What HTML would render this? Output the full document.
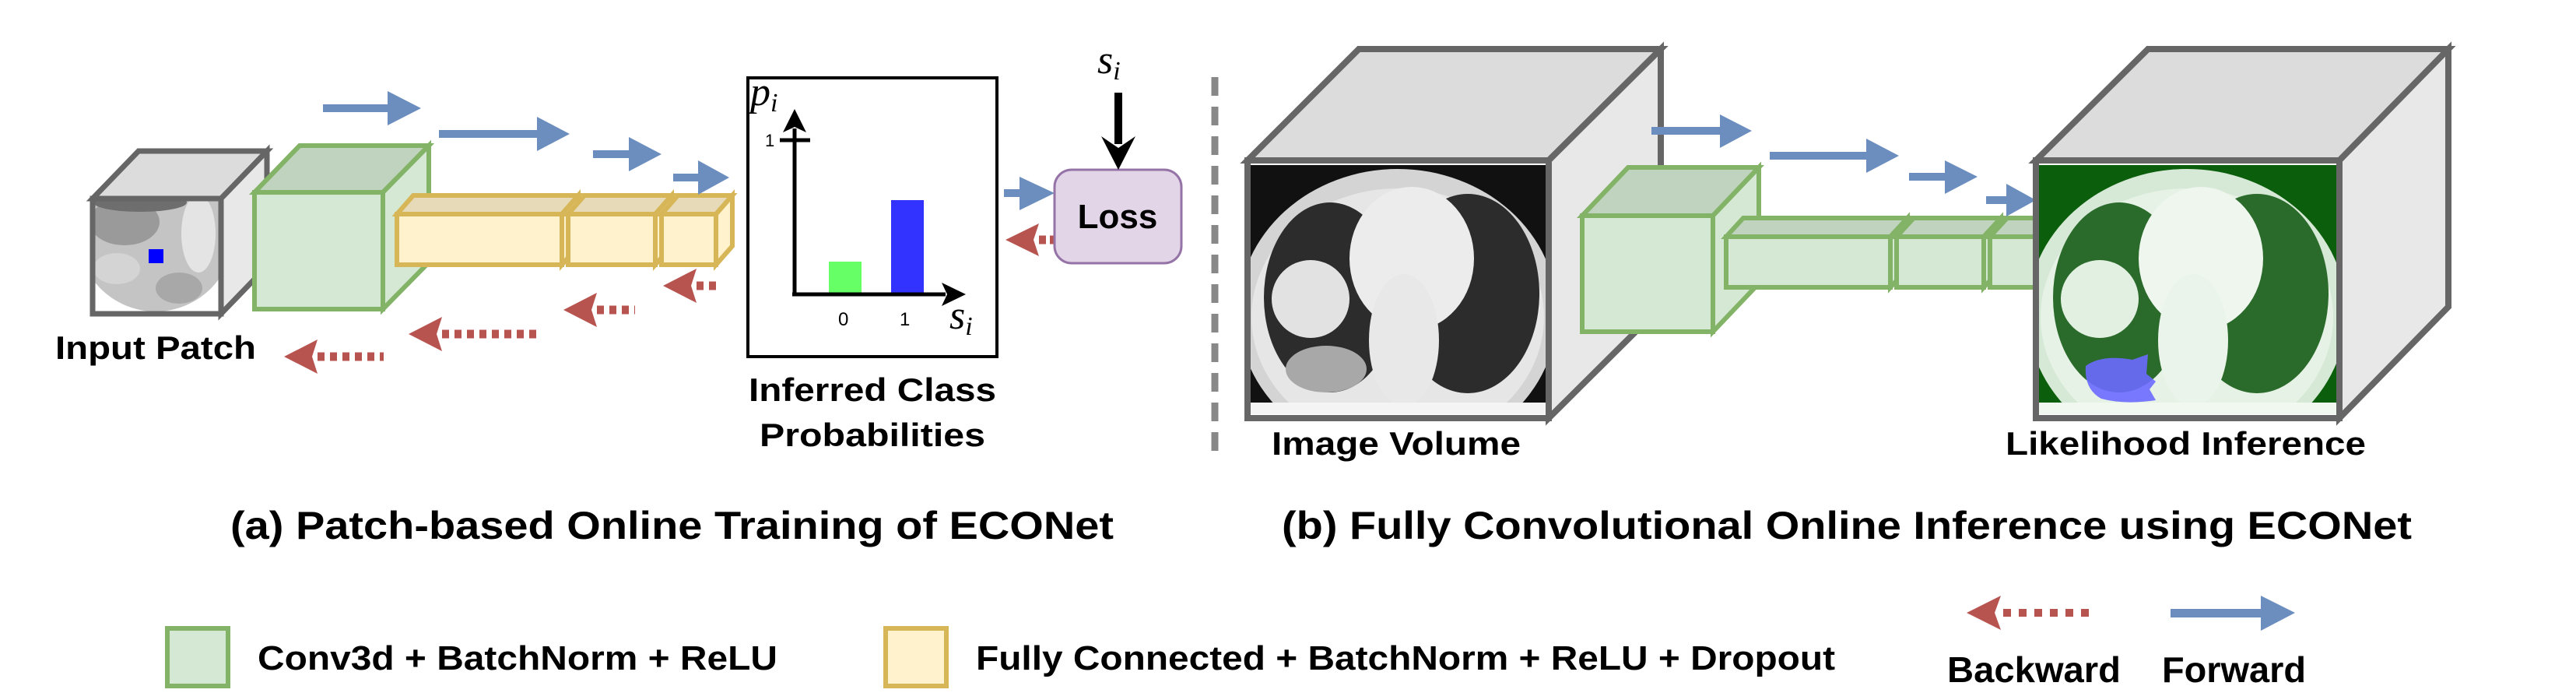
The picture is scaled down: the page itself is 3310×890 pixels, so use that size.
<!DOCTYPE html>
<html><head><meta charset="utf-8"><style>
html,body{margin:0;padding:0;background:#fff;}
svg{display:block;}
text{font-family:"Liberation Sans",sans-serif;font-weight:bold;fill:#000;}
.m{font-family:"Liberation Serif",serif;font-style:italic;font-weight:normal;}
.n{font-weight:normal;}
</style></head><body>
<svg width="3310" height="890" viewBox="0 0 3310 890" xmlns="http://www.w3.org/2000/svg">
<defs>
<clipPath id="c1"><rect x="0" y="0" width="385" height="320"/></clipPath>
<clipPath id="cp"><rect x="119" y="255" width="165" height="148"/></clipPath>
<g id="ct" clip-path="url(#c1)">
  <rect x="0" y="0" width="385" height="320" fill="#111"/>
  <ellipse cx="192" cy="190" rx="205" ry="185" fill="#d4d4d4"/>
  <ellipse cx="192" cy="195" rx="188" ry="165" fill="#e6e6e6"/>
  <ellipse cx="105" cy="170" rx="85" ry="122" fill="#2c2c2c"/>
  <ellipse cx="282" cy="165" rx="92" ry="128" fill="#2c2c2c"/>
  <ellipse cx="210" cy="120" rx="80" ry="92" fill="#ececec"/>
  <ellipse cx="200" cy="225" rx="45" ry="85" fill="#e8e8e8"/>
  <circle cx="80" cy="172" r="50" fill="#e2e2e2"/>
  <ellipse cx="100" cy="262" rx="52" ry="30" fill="#a8a8a8"/>
  <rect x="0" y="305" width="385" height="15" fill="#f4f4f4"/>
</g>
<g id="ctg" clip-path="url(#c1)">
  <rect x="0" y="0" width="385" height="320" fill="#0b5e0b"/>
  <ellipse cx="192" cy="190" rx="205" ry="185" fill="#d6e8d6"/>
  <ellipse cx="192" cy="195" rx="188" ry="165" fill="#e6f2e6"/>
  <ellipse cx="105" cy="170" rx="85" ry="122" fill="#2a6a2a"/>
  <ellipse cx="282" cy="165" rx="92" ry="128" fill="#2a6a2a"/>
  <ellipse cx="210" cy="120" rx="80" ry="92" fill="#eef6ee"/>
  <ellipse cx="200" cy="225" rx="45" ry="85" fill="#eaf4ea"/>
  <circle cx="80" cy="172" r="50" fill="#e2f0e2"/>
  <rect x="0" y="305" width="385" height="15" fill="#f0f8f0"/>
</g>
</defs>

<!-- ===== Part (a) ===== -->
<polygon points="119,255 178,194 343,194 284,255" fill="#dcdcdc" stroke="#666" stroke-width="7"/>
<polygon points="284,255 343,194 343,342 284,403" fill="#e8e8e8" stroke="#666" stroke-width="7"/>
<rect x="119" y="255" width="165" height="148" fill="#fff"/>
<g clip-path="url(#cp)">
<ellipse cx="200" cy="300" rx="100" ry="100" fill="#c4c4c4"/>
<ellipse cx="160" cy="285" rx="45" ry="30" fill="#9a9a9a"/>
<ellipse cx="180" cy="260" rx="60" ry="12" fill="#6e6e6e"/>
<ellipse cx="255" cy="300" rx="22" ry="50" fill="#e4e4e4"/>
<ellipse cx="150" cy="345" rx="30" ry="20" fill="#d4d4d4"/>
<ellipse cx="230" cy="370" rx="30" ry="20" fill="#a8a8a8"/>
</g>
<rect x="119" y="255" width="165" height="148" fill="none" stroke="#666" stroke-width="7"/>
<rect x="191" y="320" width="19" height="18" fill="#0000ff"/>

<polygon points="327,247 385,187 551,187 492,247" fill="#c0d3bf" stroke="#82b366" stroke-width="6"/>
<polygon points="492,247 551,187 551,337 492,397" fill="#d5e8d4" stroke="#82b366" stroke-width="6"/>
<rect x="327" y="247" width="165" height="150" fill="#d5e8d4" stroke="#82b366" stroke-width="6"/>

<g stroke="#d6b656" stroke-width="6">
<polygon points="510,275 531,251 743,251 722,275" fill="#e6dab8"/>
<polygon points="722,275 743,251 743,316 722,340" fill="#fff2cc"/>
<rect x="510" y="275" width="212" height="65" fill="#fff2cc"/>
<polygon points="730,275 751,251 863,251 842,275" fill="#e6dab8"/>
<polygon points="842,275 863,251 863,316 842,340" fill="#fff2cc"/>
<rect x="730" y="275" width="112" height="65" fill="#fff2cc"/>
<polygon points="850,275 871,251 941,251 920,275" fill="#e6dab8"/>
<polygon points="920,275 941,251 941,316 920,340" fill="#fff2cc"/>
<rect x="850" y="275" width="70" height="65" fill="#fff2cc"/>
</g>

<g fill="#6c8ebf">
<rect x="415" y="134" width="90" height="10"/><polygon points="498,117 541,139 498,161"/>
<rect x="564" y="167" width="130" height="10"/><polygon points="690,150 732,172 690,194"/>
<rect x="762" y="193" width="50" height="10"/><polygon points="808,176 850,198 808,220"/>
<rect x="865" y="223" width="36" height="10"/><polygon points="897,206 937,228 897,250"/>
<rect x="1290" y="243" width="30" height="10"/><polygon points="1310,227 1355,248 1310,270"/>
</g>

<g fill="#b85450">
<polygon points="852,367 895,345 888,367 895,389"/>
<line x1="895" y1="367" x2="923" y2="367" stroke="#b85450" stroke-width="11" stroke-dasharray="9 7"/>
<polygon points="724,398 767,376 760,398 767,420"/>
<line x1="767" y1="398" x2="816" y2="398" stroke="#b85450" stroke-width="11" stroke-dasharray="9 7"/>
<polygon points="525,429 568,407 561,429 568,451"/>
<line x1="568" y1="429" x2="694" y2="429" stroke="#b85450" stroke-width="11" stroke-dasharray="9 7"/>
<polygon points="365,458 408,436 401,458 408,480"/>
<line x1="408" y1="458" x2="493" y2="458" stroke="#b85450" stroke-width="11" stroke-dasharray="9 7"/>
<polygon points="1292,308 1335,287 1328,308 1335,329"/>
<line x1="1335" y1="308" x2="1355" y2="308" stroke="#b85450" stroke-width="11" stroke-dasharray="9 5"/>
</g>

<text x="71" y="461" font-size="42" textLength="258" lengthAdjust="spacingAndGlyphs">Input Patch</text>

<rect x="961" y="100" width="320" height="358" fill="#fff" stroke="#000" stroke-width="4"/>
<rect x="1065" y="336" width="42" height="40" fill="#66ff66"/>
<rect x="1145" y="257" width="42" height="119" fill="#3333ff"/>
<line x1="1021" y1="378" x2="1021" y2="165" stroke="#000" stroke-width="5"/>
<polygon points="1006,170 1021,140 1036,170 1021,163"/>
<line x1="1018" y1="378" x2="1215" y2="378" stroke="#000" stroke-width="5"/>
<polygon points="1210,363 1241,378 1210,393 1217,378"/>
<line x1="1002" y1="180" x2="1041" y2="180" stroke="#000" stroke-width="5"/>
<text class="n" x="983" y="188" font-size="22">1</text>
<text class="n" x="1077" y="418" font-size="24">0</text>
<text class="n" x="1156" y="418" font-size="24">1</text>
<text class="m" x="964" y="135" font-size="52" style="font-family:'Liberation Serif',serif;font-style:italic">p<tspan font-size="34" dy="8">i</tspan></text>
<text class="m" x="1220" y="422" font-size="52" style="font-family:'Liberation Serif',serif;font-style:italic">s<tspan font-size="34" dy="8">i</tspan></text>

<text x="1121" y="515" font-size="42" text-anchor="middle" textLength="318" lengthAdjust="spacingAndGlyphs">Inferred Class</text>
<text x="1121" y="573" font-size="42" text-anchor="middle" textLength="290" lengthAdjust="spacingAndGlyphs">Probabilities</text>

<rect x="1355" y="218" width="163" height="120" rx="22" fill="#e1d5e7" stroke="#9673a6" stroke-width="3"/>
<text x="1436" y="293" font-size="44" text-anchor="middle">Loss</text>
<line x1="1437" y1="119" x2="1437" y2="185" stroke="#000" stroke-width="10"/>
<polygon points="1415,175 1437,218 1459,175 1437,190"/>
<text class="m" x="1410" y="94" font-size="52" style="font-family:'Liberation Serif',serif;font-style:italic">s<tspan font-size="34" dy="8">i</tspan></text>

<line x1="1561" y1="99" x2="1561" y2="590" stroke="#888" stroke-width="9" stroke-dasharray="24 14"/>

<!-- ===== Part (b) ===== -->
<polygon points="1603,206 1746,63 2134,63 1990,206" fill="#dcdcdc" stroke="#666" stroke-width="8"/>
<polygon points="1990,206 2134,63 2134,394 1990,537" fill="#e8e8e8" stroke="#666" stroke-width="8"/>
<rect x="1603" y="206" width="387" height="331" fill="#fff"/>
<use href="#ct" x="1604" y="212"/>
<rect x="1603" y="206" width="387" height="331" fill="none" stroke="#666" stroke-width="8"/>

<polygon points="2033,277 2092,215 2260,215 2201,277" fill="#c0d3bf" stroke="#82b366" stroke-width="6"/>
<polygon points="2201,277 2260,215 2260,364 2201,426" fill="#d5e8d4" stroke="#82b366" stroke-width="6"/>
<rect x="2033" y="277" width="168" height="149" fill="#d5e8d4" stroke="#82b366" stroke-width="6"/>
<g stroke="#82b366" stroke-width="6">
<polygon points="2218,304 2240,280 2451,280 2429,304" fill="#c0d3bf"/>
<polygon points="2429,304 2451,280 2451,345 2429,369" fill="#d5e8d4"/>
<rect x="2218" y="304" width="211" height="65" fill="#d5e8d4"/>
<polygon points="2437,304 2459,280 2571,280 2549,304" fill="#c0d3bf"/>
<polygon points="2549,304 2571,280 2571,345 2549,369" fill="#d5e8d4"/>
<rect x="2437" y="304" width="112" height="65" fill="#d5e8d4"/>
<polygon points="2557,304 2579,280 2660,280 2638,304" fill="#c0d3bf"/>
<rect x="2557" y="304" width="81" height="65" fill="#d5e8d4"/>
</g>

<g fill="#6c8ebf">
<rect x="2122" y="163" width="95" height="10"/><polygon points="2210,147 2251,168 2210,190"/>
<rect x="2274" y="195" width="130" height="10"/><polygon points="2398,178 2440,200 2398,222"/>
<rect x="2453" y="222" width="50" height="10"/><polygon points="2499,206 2541,227 2499,249"/>
<rect x="2552" y="252" width="30" height="10"/><polygon points="2578,236 2616,257 2578,278"/>
</g>

<polygon points="2616,206 2760,63 3146,63 3006,206" fill="#dcdcdc" stroke="#666" stroke-width="8"/>
<polygon points="3006,206 3146,63 3146,394 3006,537" fill="#e8e8e8" stroke="#666" stroke-width="8"/>
<rect x="2616" y="206" width="390" height="331" fill="#fff"/>
<use href="#ctg" x="2618" y="212"/>
<path d="M2680,470 Q2700,455 2740,462 L2760,455 L2758,480 L2770,490 L2762,500 L2770,514 Q2730,520 2700,512 Q2678,500 2680,470 Z" fill="#6a6aff" opacity="0.9"/>
<rect x="2616" y="206" width="390" height="331" fill="none" stroke="#666" stroke-width="8"/>

<text x="1634" y="584" font-size="42" textLength="320" lengthAdjust="spacingAndGlyphs">Image Volume</text>
<text x="2577" y="584" font-size="42" textLength="463" lengthAdjust="spacingAndGlyphs">Likelihood Inference</text>

<text x="296" y="692" font-size="50" textLength="1135" lengthAdjust="spacingAndGlyphs">(a) Patch-based Online Training of ECONet</text>
<text x="1647" y="692" font-size="50" textLength="1452" lengthAdjust="spacingAndGlyphs">(b) Fully Convolutional Online Inference using ECONet</text>

<rect x="215" y="807" width="78" height="74" fill="#d5e8d4" stroke="#82b366" stroke-width="6"/>
<text x="331" y="860" font-size="44" textLength="668" lengthAdjust="spacingAndGlyphs">Conv3d + BatchNorm + ReLU</text>
<rect x="1138" y="807" width="78" height="74" fill="#fff2cc" stroke="#d6b656" stroke-width="6"/>
<text x="1254" y="860" font-size="44" textLength="1104" lengthAdjust="spacingAndGlyphs">Fully Connected + BatchNorm + ReLU + Dropout</text>

<polygon points="2527,787 2571,765 2563,787 2571,809" fill="#b85450"/>
<line x1="2574" y1="787" x2="2684" y2="787" stroke="#b85450" stroke-width="10" stroke-dasharray="10 10"/>
<rect x="2789" y="782" width="120" height="11" fill="#6c8ebf"/>
<polygon points="2905,765 2949,787 2905,810" fill="#6c8ebf"/>
<text x="2502" y="876" font-size="46" textLength="223" lengthAdjust="spacingAndGlyphs">Backward</text>
<text x="2778" y="876" font-size="46" textLength="185" lengthAdjust="spacingAndGlyphs">Forward</text>
</svg>
</body></html>
